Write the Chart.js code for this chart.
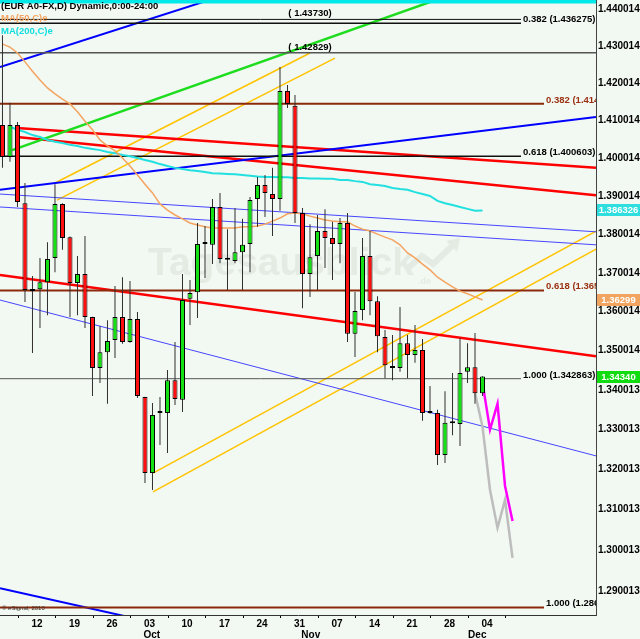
<!DOCTYPE html>
<html lang="en">
<head>
<meta charset="UTF-8">
<title>EUR A0-FX daily</title>
<script src="https://cdn.jsdelivr.net/npm/chart.js@4.4.1/dist/chart.umd.min.js"></script>
<style>
  html, body { margin: 0; padding: 0; background: #f2f8f2; }
  canvas { display: block; }
</style>
</head>
<body>
<canvas id="chart" width="640" height="639"></canvas>
<script>
// daily bars, index 0 = first bar on the left
const opens  = [1.4089, 1.4004, 1.4089, 1.3882, 1.3653, 1.3658, 1.3676, 1.3739, 1.3880, 1.3793,
                1.3674, 1.3697, 1.3586, 1.3456, 1.3496, 1.3527, 1.3586, 1.3522, 1.3581, 1.3382,
                1.3191, 1.3342, 1.3342, 1.3425, 1.3375, 1.3633, 1.3650, 1.3775, 1.3773, 1.3872,
                1.3734, 1.3731, 1.3754, 1.3775, 1.3893, 1.3930, 1.3906, 1.3893, 1.4180, 1.4140,
                1.3856, 1.3697, 1.3744, 1.3809, 1.3791, 1.3775, 1.3830, 1.3543, 1.3604, 1.3744,
                1.3627, 1.3535, 1.3461, 1.3456, 1.3519, 1.3489, 1.3502, 1.3342, 1.3342, 1.3236,
                1.3317, 1.3314, 1.3446, 1.3458, 1.3392];
const highs  = [1.4330, 1.4148, 1.4097, 1.3935, 1.3692, 1.3739, 1.3780, 1.3932, 1.3882, 1.3795,
                1.3744, 1.3796, 1.3587, 1.3563, 1.3578, 1.3666, 1.3689, 1.3679, 1.3599, 1.3383,
                1.3367, 1.3382, 1.3451, 1.3522, 1.3697, 1.3682, 1.3830, 1.3822, 1.3893, 1.3909,
                1.3814, 1.3869, 1.3841, 1.3898, 1.3951, 1.3956, 1.3975, 1.4244, 1.4196, 1.4169,
                1.3869, 1.3827, 1.3851, 1.3866, 1.3833, 1.3843, 1.3856, 1.3651, 1.3791, 1.3809,
                1.3640, 1.3553, 1.3540, 1.3612, 1.3540, 1.3566, 1.3530, 1.3410, 1.3350, 1.3397,
                1.3443, 1.3532, 1.3519, 1.3545, 1.3435];
const lows   = [1.3975, 1.3991, 1.3872, 1.3625, 1.3494, 1.3558, 1.3591, 1.3702, 1.3760, 1.3586,
                1.3591, 1.3558, 1.3385, 1.3418, 1.3365, 1.3481, 1.3518, 1.3520, 1.3380, 1.3166,
                1.3149, 1.3261, 1.3241, 1.3362, 1.3344, 1.3566, 1.3584, 1.3687, 1.3723, 1.3725,
                1.3656, 1.3725, 1.3656, 1.3702, 1.3820, 1.3846, 1.3796, 1.3862, 1.4134, 1.3830,
                1.3609, 1.3638, 1.3656, 1.3713, 1.3682, 1.3725, 1.3522, 1.3484, 1.3578, 1.3591,
                1.3496, 1.3430, 1.3425, 1.3446, 1.3430, 1.3469, 1.3322, 1.3340, 1.3211, 1.3216,
                1.3286, 1.3259, 1.3418, 1.3365, 1.3385];
const closes = [1.4004, 1.4089, 1.3885, 1.3656, 1.3658, 1.3676, 1.3736, 1.3880, 1.3791, 1.3674,
                1.3697, 1.3586, 1.3456, 1.3496, 1.3525, 1.3586, 1.3522, 1.3581, 1.3385, 1.3191,
                1.3337, 1.3343, 1.3425, 1.3377, 1.3630, 1.3648, 1.3775, 1.3776, 1.3872, 1.3736,
                1.3734, 1.3754, 1.3773, 1.3890, 1.3930, 1.3909, 1.3893, 1.4180, 1.4145, 1.3856,
                1.3697, 1.3741, 1.3809, 1.3791, 1.3775, 1.3830, 1.3543, 1.3602, 1.3744, 1.3627,
                1.3537, 1.3463, 1.3456, 1.3519, 1.3489, 1.3502, 1.3342, 1.3342, 1.3236, 1.3317,
                1.3316, 1.3443, 1.3458, 1.3392, 1.3434];

// MA(50,C) and MA(200,C), one value per bar
const ma50  = [1.4306, 1.4298, 1.4282, 1.4258, 1.4233, 1.4209, 1.4188, 1.4172, 1.4158, 1.4145,
               1.4124, 1.4099, 1.4076, 1.4049, 1.4033, 1.4020, 1.4001, 1.3980, 1.3956, 1.3932,
               1.3909, 1.3880, 1.3864, 1.3851, 1.3841, 1.3830, 1.3825, 1.3820, 1.3817, 1.3817,
               1.3817, 1.3817, 1.3820, 1.3820, 1.3822, 1.3827, 1.3835, 1.3843, 1.3854, 1.3856,
               1.3854, 1.3848, 1.3843, 1.3838, 1.3835, 1.3833, 1.3833, 1.3822, 1.3814, 1.3809,
               1.3801, 1.3793, 1.3786, 1.3773, 1.3752, 1.3739, 1.3723, 1.3708, 1.3689, 1.3676,
               1.3664, 1.3653, 1.3646, 1.3638, 1.3630];
const ma200 = [null,   1.4084, 1.4076, 1.4070, 1.4062, 1.4057, 1.4049, 1.4044, 1.4041, 1.4036,
               1.4033, 1.4028, 1.4025, 1.4022, 1.4017, 1.4014, 1.4009, 1.4006, 1.4001, 1.3996,
               1.3991, 1.3985, 1.3980, 1.3975, 1.3972, 1.3969, 1.3967, 1.3964, 1.3961, 1.3960,
               1.3959, 1.3958, 1.3956, 1.3954, 1.3952, 1.3951, 1.3951, 1.3950, 1.3950, 1.3948,
               1.3948, 1.3947, 1.3947, 1.3946, 1.3946, 1.3943, 1.3943, 1.3940, 1.3938, 1.3932,
               1.3930, 1.3927, 1.3922, 1.3919, 1.3917, 1.3911, 1.3906, 1.3901, 1.3888, 1.3882,
               1.3877, 1.3872, 1.3867, 1.3862, 1.3863];

// axis labels
const dayTickPos = [4.6, 9.6, 14.6, 19.6, 24.6, 29.6, 34.6, 39.6, 44.6, 49.6, 54.6, 59.6, 64.6];
const dayLabels = ['12', '19', '26', '03', '10', '17', '24', '31', '07', '14', '21', '28', '04'];
const monthTickPos = [19.9, 41.1, 63.3];
const monthLabels = ['Oct', 'Nov', 'Dec'];
const yTicks = [1.440014, 1.430014, 1.420014, 1.410014, 1.400014, 1.390014, 1.380014, 1.370014,
                1.360014, 1.350014, 1.340013, 1.330013, 1.320013, 1.310013, 1.300013, 1.290013];

// drawn trend lines as [bar index, price]
const blueUpper   = [[-0.33, 1.4244], [31.7, 1.4453]];
const blueLower   = [[-0.33, 1.3917], [79.13, 1.4110]];
const blueBottom  = [[-0.33, 1.2907], [19.7, 1.2825]];
const greenLine   = [[1.3, 1.4022], [61.5, 1.4453]];
const redUpperA   = [[1.93, 1.4081], [79.13, 1.3975]];
const redUpperB   = [[1.93, 1.4057], [79.13, 1.3903]];
const redLower    = [[-0.33, 1.3695], [79.13, 1.3486]];
const thinBlueA   = [[-0.33, 1.3906], [79.13, 1.3807]];
const thinBlueB   = [[-0.33, 1.3872], [79.13, 1.3773]];
const thinBlueC   = [[-0.33, 1.3630], [79.13, 1.3234]];
const yellowA     = [[7.0, 1.3935], [41.0, 1.4282]];
const yellowB     = [[7.27, 1.3890], [44.33, 1.4268]];
const yellowC     = [[20.07, 1.3191], [79.13, 1.3809]];
const yellowD     = [[20.07, 1.3144], [79.13, 1.3762]];
const magentaPath = [[64, 1.3418], [65, 1.3300], [66, 1.3365], [67, 1.3159], [68, 1.3072]];
const grayPath    = [[63, 1.3392], [64, 1.3307], [65, 1.3149], [66, 1.3055], [67, 1.3124], [68, 1.2981]];

// horizontal levels
const fibRatios = ['0.382', '0.618', '1.000'];
const fibBlack = [1.436275, 1.400603, 1.342863];
const fibBrown = [1.414553, 1.365462, 1.286000];
const markLevels = [1.43730, 1.42829];
const topLevel = 1.4422;

// last value tags on the price axis
const tagValues = [1.386326, 1.36299, 1.34340];
const tagLabels = ['1.386326', '1.36299', '1.34340'];

const X0 = -0.33, X1 = 79.13;
const fibBlackEnd = 69.13, fibBrownEnd = 72.2, markLabelAt = 41;
const FONT = '"Liberation Sans", Arial, sans-serif';
const tagColors = ['#2fdede', '#f2a560', '#10dc10'];

const pts = arr => arr.map(([x, y]) => ({ x, y }));
const line = (data, color, width, order) => ({
  type: 'line', data, borderColor: color, borderWidth: width, pointRadius: 0,
  fill: false, tension: 0, clip: 0, order: order || 6
});
const flat = (v, from, to) => [{ x: from, y: v }, { x: to, y: v }];

const idx = opens.map((_, i) => i);
const datasets = [
  // candle bodies
  {
    type: 'bar',
    data: idx.map(i => ({ x: i, y: [opens[i], closes[i]] })),
    backgroundColor: idx.map(i => closes[i] >= opens[i] ? '#14e014' : '#ff1010'),
    borderColor: '#000', borderWidth: 1, borderSkipped: false,
    barThickness: 5, minBarLength: 2, grouped: false, inflateAmount: 0, order: 1
  },
  // wicks
  {
    type: 'bar',
    data: idx.map(i => ({ x: i, y: [lows[i], highs[i]] })),
    backgroundColor: '#303030', borderWidth: 0,
    barThickness: 1, grouped: false, inflateAmount: 0, order: 2
  },
  line(pts(magentaPath), '#ff00ff', 2.5, 3),
  line(pts(grayPath), '#bdbdbd', 2.5, 3),
  line(ma50.map((v, i) => ({ x: i, y: v })), '#f4a460', 1.5, 4),
  line(ma200.map((v, i) => ({ x: i, y: v })), '#22e0e0', 2, 4),
  line(flat(topLevel, X0, X1), '#00e8e8', 4),
  line(flat(markLevels[0], X0, fibBlackEnd), '#111', 1),
  line(flat(markLevels[1], X0, X1), '#555', 1.5),
  ...fibBlack.map((v, k) => line(flat(v, X0, fibBlackEnd), k === 2 ? '#555' : '#111', k === 2 ? 1 : 1.5)),
  ...fibBrown.map(v => line(flat(v, X0, fibBrownEnd), '#8b2a0a', 2)),
  line(pts(blueUpper), '#0000ff', 2),
  line(pts(blueLower), '#0000ff', 2),
  line(pts(blueBottom), '#0000ff', 2),
  line(pts(greenLine), '#1edc1e', 2.5),
  line(pts(redUpperA), '#ff0000', 2.5),
  line(pts(redUpperB), '#ff0000', 2.5),
  line(pts(redLower), '#ff0000', 2.5),
  line(pts(thinBlueA), '#4646ff', 1),
  line(pts(thinBlueB), '#4646ff', 1),
  line(pts(thinBlueC), '#4646ff', 1),
  line(pts(yellowA), '#ffc400', 1.5),
  line(pts(yellowB), '#ffc400', 1.5),
  line(pts(yellowC), '#ffc400', 1.5),
  line(pts(yellowD), '#ffc400', 1.5)
];

const decor = {
  id: 'decor',
  beforeDatasetsDraw(chart) {
    const { ctx, chartArea: a } = chart;
    ctx.save();
    // faint watermark
    ctx.fillStyle = '#e3ebe2';
    ctx.strokeStyle = '#e3ebe2';
    ctx.font = 'bold 39px ' + FONT;
    ctx.fillText('Tagesausblick', a.left + 148, a.top + 275);
    ctx.font = 'bold 9px ' + FONT;
    ctx.fillText('.de', a.left + 418, a.top + 284);
    ctx.lineWidth = 6;
    ctx.beginPath();
    ctx.moveTo(a.left + 408, a.top + 268);
    ctx.lineTo(a.left + 422, a.top + 256);
    ctx.lineTo(a.left + 433, a.top + 264);
    ctx.lineTo(a.left + 452, a.top + 246);
    ctx.stroke();
    ctx.beginPath();
    ctx.moveTo(a.left + 460, a.top + 238);
    ctx.lineTo(a.left + 446, a.top + 241);
    ctx.lineTo(a.left + 457, a.top + 252);
    ctx.closePath();
    ctx.fill();
    ctx.restore();
  },
  afterDatasetsDraw(chart) {
    const { ctx, chartArea: a, scales: { x, y } } = chart;
    ctx.save();
    ctx.beginPath();
    ctx.rect(a.left, a.top, a.right - a.left, a.bottom - a.top);
    ctx.clip();
    ctx.font = 'bold 9.5px ' + FONT;
    ctx.textBaseline = 'bottom';
    ctx.textAlign = 'left';
    fibBlack.forEach((v, k) => {
      ctx.fillStyle = '#000';
      ctx.fillText(fibRatios[k] + ' (' + v.toFixed(6) + ')', x.getPixelForValue(fibBlackEnd) + 2, y.getPixelForValue(v) + 1);
    });
    fibBrown.forEach((v, k) => {
      ctx.fillStyle = k < 2 ? '#9a3010' : '#000';
      ctx.fillText(fibRatios[k] + ' (' + v.toFixed(6) + ')', x.getPixelForValue(fibBrownEnd) + 2, y.getPixelForValue(v) + 1);
    });
    ctx.fillStyle = '#000';
    ctx.textAlign = 'center';
    markLevels.forEach(v => {
      ctx.fillText('( ' + v.toFixed(5) + ')', x.getPixelForValue(markLabelAt), y.getPixelForValue(v) - 1);
    });
    // study header
    ctx.textAlign = 'left';
    ctx.textBaseline = 'middle';
    ctx.fillStyle = '#000';
    ctx.fillText('(EUR A0-FX,D) Dynamic,0:00-24:00', a.left + 1, a.top + 6);
    ctx.fillStyle = '#f4a460';
    ctx.fillText('MA(50,C)e', a.left + 1, a.top + 18);
    ctx.fillStyle = '#10dede';
    ctx.fillText('MA(200,C)e', a.left + 1, a.top + 31);
    ctx.fillStyle = '#333';
    ctx.font = '6px ' + FONT;
    ctx.fillText('\u00a9 eSignal, 2010', a.left + 2, a.bottom - 7);
    ctx.restore();
  },
  afterDraw(chart) {
    const { ctx, chartArea: a, scales: { y } } = chart;
    ctx.save();
    ctx.font = 'bold 9.5px ' + FONT;
    ctx.textBaseline = 'middle';
    ctx.textAlign = 'center';
    tagValues.forEach((v, k) => {
      const py = Math.round(y.getPixelForValue(v));
      ctx.fillStyle = tagColors[k];
      ctx.fillRect(a.right + 1, py - 6, 43, 12);
      ctx.fillStyle = '#fff';
      ctx.fillText(tagLabels[k], a.right + 22.5, py + 0.5);
    });
    ctx.restore();
  }
};

const tickFont = { family: FONT, size: 10, weight: 'bold' };

new Chart(document.getElementById('chart'), {
  type: 'bar',
  data: { datasets },
  plugins: [decor],
  options: {
    responsive: false,
    animation: false,
    events: [],
    layout: { padding: 0 },
    plugins: { legend: { display: false }, tooltip: { enabled: false } },
    scales: {
      x: {
        type: 'linear', position: 'bottom', min: X0, max: X1, offset: false, bounds: 'data',
        grid: { drawOnChartArea: false, drawTicks: true, tickLength: 3, color: '#000' },
        border: { display: true, color: '#333' },
        ticks: { autoSkip: false, maxRotation: 0, padding: 0, color: '#000', font: tickFont,
                 callback: (v, i) => dayLabels[i] },
        afterBuildTicks: s => { s.ticks = dayTickPos.map(v => ({ value: v })); },
        afterFit: s => { s.height = 13; s.paddingLeft = 0; s.paddingRight = 0; }
      },
      x2: {
        type: 'linear', position: 'bottom', min: X0, max: X1, offset: false, bounds: 'data',
        grid: { display: false, drawTicks: false },
        border: { display: false },
        ticks: { autoSkip: false, maxRotation: 0, padding: 1, color: '#000', font: tickFont,
                 callback: (v, i) => monthLabels[i] },
        afterBuildTicks: s => { s.ticks = monthTickPos.map(v => ({ value: v })); },
        afterFit: s => { s.height = 11; s.paddingLeft = 0; s.paddingRight = 0; }
      },
      y: {
        type: 'logarithmic', position: 'right', min: 1.28416, max: 1.44259, bounds: 'data',
        grid: { display: false, drawTicks: false },
        border: { display: true, color: '#444' },
        ticks: { autoSkip: false, padding: 2, color: '#000', font: tickFont,
                 callback: v => v.toFixed(6) },
        afterBuildTicks: s => { s.ticks = yTicks.map(v => ({ value: v })); },
        afterFit: s => { s.width = 44; s.paddingTop = 0; s.paddingBottom = 0; }
      }
    }
  }
});
</script>
</body>
</html>
